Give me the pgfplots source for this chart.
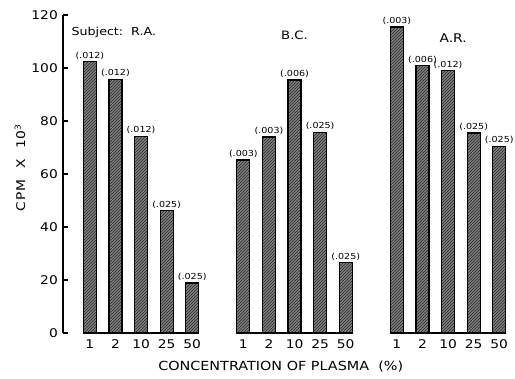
\documentclass[border=0pt]{standalone}
\usepackage{fontspec}
\setmainfont{DejaVu Sans}[FakeStretch=1.15]
\usepackage{pgfplots}
\pgfplotsset{compat=1.18}
\usetikzlibrary{patterns}

\begin{document}
\begin{tikzpicture}
\begin{axis}[
  scale only axis, width=449pt, height=318pt,
  xmin=-1.05, xmax=16.5, ymin=0, ymax=120,
  enlargelimits=false,
  axis lines*=left,
  x axis line style={draw=none},
  y axis line style={line width=1.1pt},
  ytick={0,20,...,120},
  tick align=inside,
  major tick length=5pt,
  ytick style={line width=1.1pt, black},
  xtick style={draw=none},
  xtick={0,1,2,3,4,6,7,8,9,10,12,13,14,15,16},
  xticklabels={1,2,10,25,50,1,2,10,25,50,1,2,10,25,50},
  tick label style={font=\fontsize{12}{14}\selectfont},
  /pgf/number format/assume math mode=true,
  yticklabel style={inner sep=1pt, xshift=-4pt},
  xticklabel style={yshift=-3.5pt},
  clip=false,
]
\coordinate (sw) at (rel axis cs:0,0);
\coordinate (ne) at (rel axis cs:1,1);

\addplot[ybar, bar width=13pt, draw=black, line width=1.2pt, fill=black!50,
  postaction={pattern=north east lines, pattern color=black!85},
  nodes near coords, point meta=explicit symbolic,
  every node near coord/.append style={font=\fontsize{8.3}{9}\selectfont, inner sep=1.5pt, text=black}]
coordinates {
 (0,102.4) [(.012)]
 (1,95.8)  [(.012)]
 (2,74.3)  [(.012)]
 (3,46.1)  [(.025)]
 (4,18.9)  [(.025)]
 (6,65.3)  [(.003)]
 (7,74.0)  [(.003)]
 (8,95.5)  [(.006)]
 (9,75.8)  [(.025)]
 (10,26.5) [(.025)]
 (12,115.5) [(.003)]
 (13,101.0) [(.006)]
 (14,99.0)  [(.012)]
 (15,75.5)  [(.025)]
 (16,70.5)  [(.025)]
};

\addplot[black, line width=1.4pt, mark=none] coordinates {(-0.25,0) (4.25,0)};
\addplot[black, line width=1.4pt, mark=none] coordinates {(5.75,0) (10.25,0)};
\addplot[black, line width=1.4pt, mark=none] coordinates {(11.75,0) (16.25,0)};

\node[anchor=west, font=\fontsize{11}{13}\selectfont] at (axis cs:-0.85,113.5) {Subject:\ \ R.A.};
\node[font=\fontsize{11.5}{13}\selectfont] at (axis cs:8.0,112.5) {B.C.};
\node[font=\fontsize{12}{13}\selectfont] at (axis cs:14.2,111.3) {A.R.};

\node[font=\fontsize{12.5}{14}\selectfont, anchor=center] at ([yshift=-34pt]axis cs:7.46,0) {CONCENTRATION OF PLASMA\ \ (\%)};
\node[font=\fontsize{12}{14}\selectfont\addfontfeature{LetterSpace=8}, rotate=90, anchor=center] at ([xshift=-43pt]rel axis cs:0,0.52) {CPM\ \ X\ \ 10\textsuperscript{3}};
\end{axis}
\pgfresetboundingbox
\path ([xshift=-63pt,yshift=-45pt]sw) rectangle ([xshift=3pt,yshift=15pt]ne);
\end{tikzpicture}
\end{document}
